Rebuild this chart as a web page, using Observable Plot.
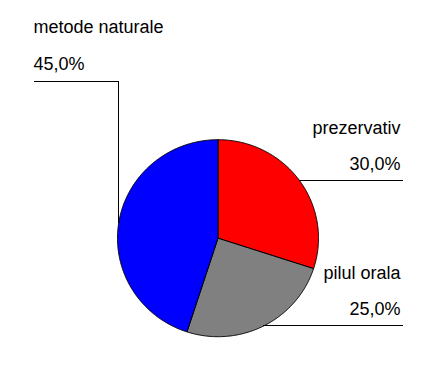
<!DOCTYPE html>
<html>
<head>
<meta charset="utf-8">
<script src="https://cdn.jsdelivr.net/npm/d3@7"></script>
<script src="https://cdn.jsdelivr.net/npm/@observablehq/plot@0.6"></script>
<style>
  html, body { margin: 0; padding: 0; background: #fff; }
  svg { display: block; }
</style>
</head>
<body>
<div id="chart"></div>
<script>
// Data
const categories = ["prezervativ", "pilul orala", "metode naturale"];
const values = [30, 25, 45];
const colors = ["#ff0000", "#808080", "#0000ff"];

// Layout
const W = 433, H = 373;
const cx = 217.5, cy = 237.7, rx = 100.5, ry = 98.5;
const total = d3.sum(values);
const fmt = v => (v / total * 100).toFixed(1).replace(".", ",") + "%";

// Pie angles (clockwise from 12 o'clock)
const arcs = d3.pie().sort(null).value(d => d)(values);
const pt = a => ({x: cx + rx * Math.sin(a), y: cy - ry * Math.cos(a)});

const slicePts = [];
arcs.forEach((a, i) => {
  const cat = categories[i];
  slicePts.push({cat, ...pt(0), x: cx, y: cy});
  const n = Math.max(2, Math.ceil((a.endAngle - a.startAngle) / (Math.PI / 360)));
  for (let k = 0; k <= n; k++) {
    const ang = a.startAngle + (a.endAngle - a.startAngle) * k / n;
    slicePts.push({cat, ...pt(ang)});
  }
  slicePts.push({cat, x: cx, y: cy});
});

// Leader lines from slice mid-edge
const mid = arcs.map(a => pt((a.startAngle + a.endAngle) / 2));
const leaders = [];
// prezervativ: horizontal to the right
leaders.push({k: 0, x: mid[0].x, y: mid[0].y}, {k: 0, x: 402, y: mid[0].y});
// pilul orala: horizontal to the right
leaders.push({k: 1, x: mid[1].x, y: mid[1].y}, {k: 1, x: 402, y: mid[1].y});
// metode naturale: up then left
leaders.push({k: 2, x: mid[2].x, y: mid[2].y}, {k: 2, x: mid[2].x, y: 80.5}, {k: 2, x: 33, y: 80.5});

const labelPos = [
  {x: 400, y: 169, anchor: "end"},
  {x: 400, y: 314, anchor: "end"},
  {x: 33, y: 69, anchor: "start"}
];
const labels = categories.map((c, i) => ({
  text: c + "\n" + fmt(values[i]),
  x: labelPos[i].x, y: labelPos[i].y, anchor: labelPos[i].anchor
}));

const chart = Plot.plot({
  width: W,
  height: H,
  margin: 0,
  x: {domain: [0, W], range: [0, W], axis: null},
  y: {domain: [0, H], range: [0, H], axis: null},
  color: {domain: categories, range: colors},
  style: {fontFamily: "Arial, 'Liberation Sans', sans-serif", background: "#fff"},
  marks: [
    Plot.line(slicePts, {x: "x", y: "y", z: "cat", fill: "cat", stroke: "#000", strokeWidth: 1, curve: "linear"}),
    Plot.line(leaders, {x: "x", y: "y", z: "k", stroke: "#000", strokeWidth: 1, shapeRendering: "crispEdges"}),
    Plot.text(labels.filter(d => d.anchor === "end"), {x: "x", y: "y", text: "text", textAnchor: "end", lineAnchor: "bottom", lineHeight: 2, fontSize: 18, fill: "#000"}),
    Plot.text(labels.filter(d => d.anchor === "start"), {x: "x", y: "y", text: "text", textAnchor: "start", lineAnchor: "bottom", lineHeight: 2.05, fontSize: 18, fill: "#000"})
  ]
});
document.getElementById("chart").appendChild(chart);
</script>
</body>
</html>
